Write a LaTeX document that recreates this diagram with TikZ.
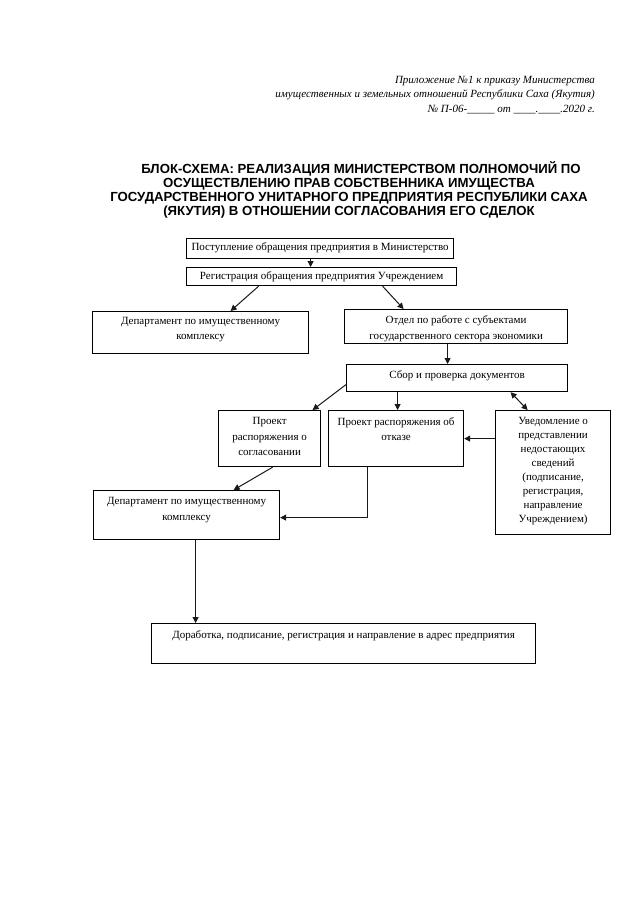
\documentclass[tikz,border=0pt]{standalone}
\usepackage{xcolor}
\usepackage{fontspec}
\setmainfont{Liberation Serif}
\newfontfamily\titleFont{Liberation Sans}
\usetikzlibrary{arrows.meta}
\colorlet{strokeColor}{black!90}
\colorlet{textColor}{black}
\tikzset{
  blockBox/.style={draw=strokeColor, line width=1.2pt, inner sep=0pt, anchor=north west,
    color=textColor, font=\fontsize{11}{15.5}\selectfont},
  flowArrow/.style={draw=strokeColor, line width=1pt, -{Triangle[length=6pt, width=6pt]}},
}
\newcommand{\boxText}[4]{\parbox[t][#2pt][t]{#1pt}{\centering\vspace*{#3pt}#4\par}}

\begin{document}
\begin{tikzpicture}[x=1pt, y=-1pt]
    \fill[white] (0, 0) rectangle (640, 905);
    \useasboundingbox (0, 0) rectangle (640, 905);
    \node[anchor=north east, align=right, inner sep=0pt, color=textColor,
      font=\fontsize{11}{14.5}\selectfont\itshape] (prikaz) at (595, 76) {%
      Приложение №1 к приказу Министерства\\
      имущественных и земельных отношений Республики Саха (Якутия)\\
      № П-06-\_\_\_\_\_ от \_\_\_\_.\_\_\_\_.2020 г.};
    \node[anchor=north, align=center, inner sep=0pt, color=textColor,
      font=\titleFont\fontsize{13.2}{14}\selectfont\bfseries] (zagolovok) at (349, 161) {%
      \hspace*{24pt}БЛОК-СХЕМА: РЕАЛИЗАЦИЯ МИНИСТЕРСТВОМ ПОЛНОМОЧИЙ ПО\\
      ОСУЩЕСТВЛЕНИЮ ПРАВ СОБСТВЕННИКА ИМУЩЕСТВА\\
      ГОСУДАРСТВЕННОГО УНИТАРНОГО ПРЕДПРИЯТИЯ РЕСПУБЛИКИ САХА\\
      (ЯКУТИЯ) В ОТНОШЕНИИ СОГЛАСОВАНИЯ ЕГО СДЕЛОК};

    \node[blockBox] (postup) at (186, 238) {\boxText{267}{20}{4.5}{Поступление обращения предприятия в Министерство}};
    \node[blockBox] (reg) at (186, 267) {\boxText{270}{18}{4}{Регистрация обращения предприятия Учреждением}};
    \node[blockBox] (dep1) at (92, 311) {\boxText{216}{42}{5.5}{Департамент по имущественному\\комплексу}};
    \node[blockBox] (otdel) at (344, 309) {\boxText{223}{34}{6.5}{Отдел по работе с субъектами\\государственного сектора экономики}};
    \node[blockBox] (sbor) at (346, 364) {\boxText{221}{27}{6.5}{Сбор и проверка документов}};
    \node[blockBox] (proj1) at (218, 410) {\boxText{102}{56}{7}{Проект\\распоряжения о\\согласовании}};
    \node[blockBox] (proj2) at (328, 410) {\boxText{135}{56}{7}{Проект распоряжения об\\отказе}};
    \node[blockBox] (uved) at (495, 410) {\boxText{115}{124}{6.5}{\fontsize{11}{14}\selectfont
      Уведомление о\\представлении\\недостающих\\сведений\\(подписание,\\регистрация,\\направление\\Учреждением)}};
    \node[blockBox] (dep2) at (93, 490) {\boxText{186}{49}{7}{Департамент по имущественному\\комплексу}};
    \node[blockBox] (final) at (151, 623) {\boxText{384}{40}{7.5}{Доработка, подписание, регистрация и направление в адрес предприятия}};

    \draw[flowArrow] ([xshift=-9.5pt]postup.south) -- ([xshift=-11pt]reg.north);
    \draw[flowArrow] ([xshift=-63pt]reg.south) -- ([xshift=30pt]dep1.north);
    \draw[flowArrow] ([xshift=61pt]reg.south) -- ([xshift=-52.5pt]otdel.north);
    \draw[flowArrow] ([xshift=-8.5pt]otdel.south) -- ([xshift=-9.5pt]sbor.north);
    \draw[flowArrow] ([yshift=-6.5pt]sbor.west) -- ([xshift=43pt]proj1.north);
    \draw[flowArrow] ([xshift=-59.5pt]sbor.south) -- ([xshift=1.5pt]proj2.north);
    \draw[flowArrow, {Triangle[length=6pt, width=6pt]}-{Triangle[length=6pt, width=6pt]}]
      ([xshift=53.5pt]sbor.south) -- ([xshift=-25.5pt]uved.north);
    \draw[flowArrow] (uved.west |- proj2.east) -- (proj2.east);
    \draw[flowArrow] ([xshift=3pt]proj1.south) -- ([xshift=47pt]dep2.north);
    \draw[flowArrow] ([xshift=-28.5pt]proj2.south) |- ([yshift=-2.5pt]dep2.east);
    \draw[flowArrow] ([xshift=9pt]dep2.south) -- ([xshift=9pt]dep2.south |- final.north);
\end{tikzpicture}
\end{document}
